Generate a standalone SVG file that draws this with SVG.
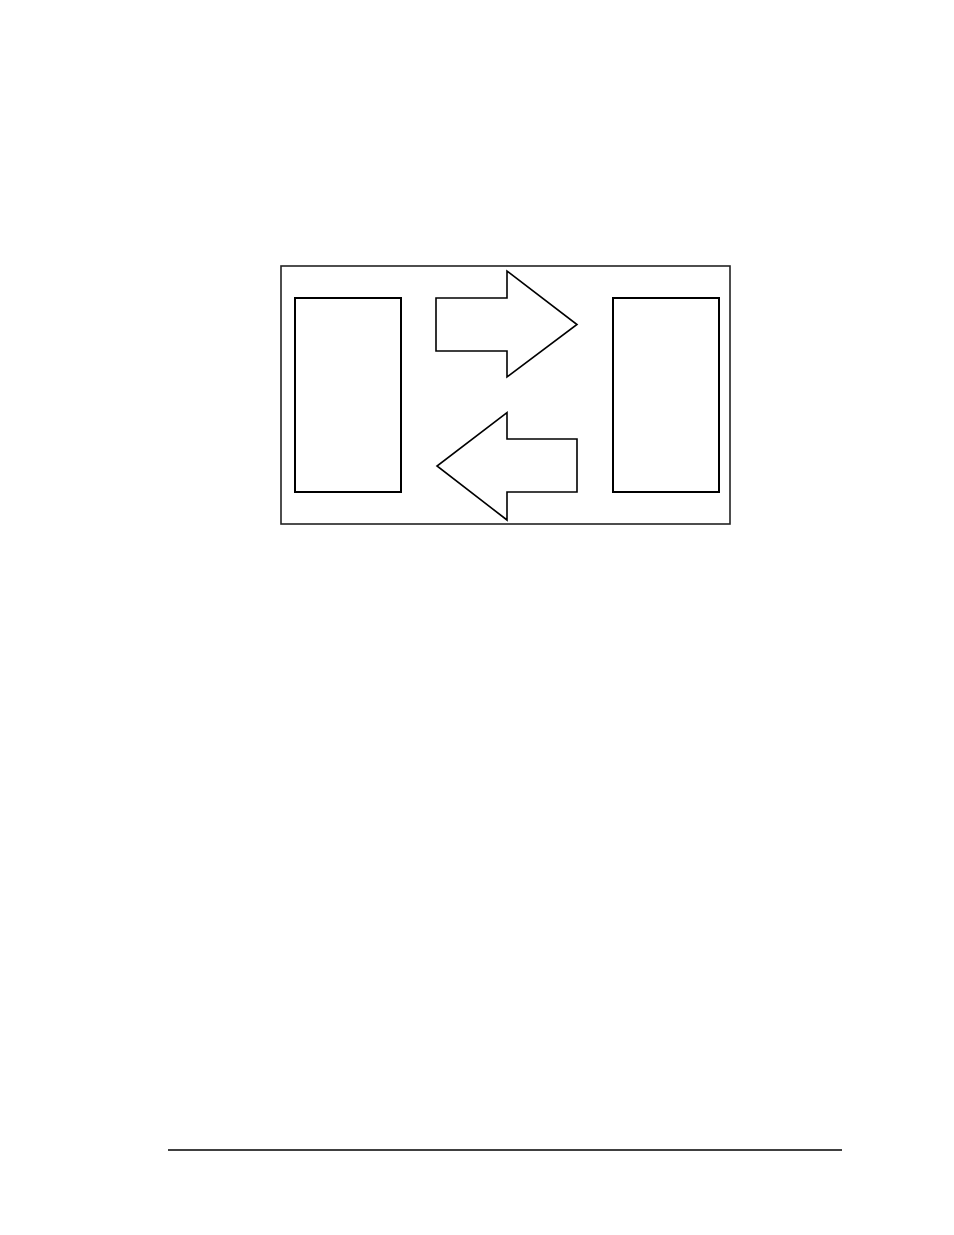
<svg xmlns="http://www.w3.org/2000/svg" width="954" height="1235" viewBox="0 0 954 1235">
<style>
.s{fill:#fff;stroke:#000;stroke-width:2}
.f{fill:#fff;stroke:#222;stroke-width:1.6}
.a{fill:#fff;stroke:#000;stroke-width:1.6;stroke-linejoin:miter}
</style>
<rect width="954" height="1235" fill="#fff"/>
<g id="frame"><rect class="f" x="281" y="266" width="449" height="258"/></g>
<g id="left-box"><rect class="s" x="295" y="298" width="106" height="194"/></g>
<g id="right-box"><rect class="s" x="613" y="298" width="106" height="194"/></g>
<g id="connectors">
<polygon class="a" points="436,298 507,298 507,271 577,324.5 507,377 507,351 436,351"/>
<polygon class="a" points="577,439 507,439 507,412.5 437,466 507,520 507,492 577,492"/>
</g>
<g id="footer"><line x1="168" y1="1150" x2="842" y2="1150" stroke="#000" stroke-width="1.5"/></g>
</svg>
